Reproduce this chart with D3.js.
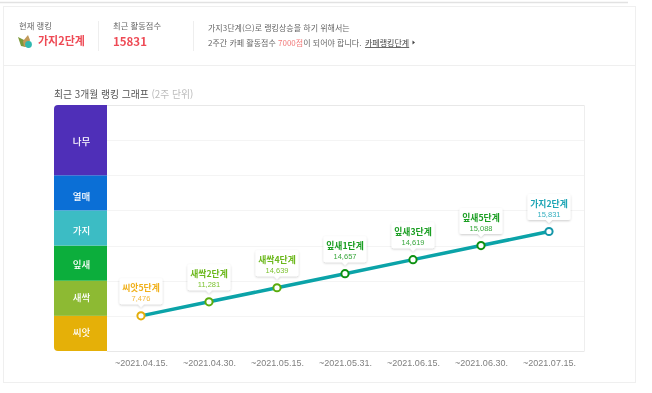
<!DOCTYPE html>
<html lang="ko"><head><meta charset="utf-8">
<style>html,body{margin:0;padding:0;background:#fff}svg{display:block;filter:blur(0.3px)}text{font-family:"Noto Sans CJK KR","Noto Sans",sans-serif}</style>
<script src="https://cdn.jsdelivr.net/npm/d3@7"></script></head><body><div id="c"></div>
<script>
const bandNames=["씨앗","새싹","잎새","가지","열매","나무"];
const bandStops=[0,5,10,15,20,25,35];
const bandColors=["#e5b008","#8dba33","#0cae3c","#3cbcc4","#0b6fd6","#4f2fb8"];
const bandLabelShift=[-0.5,-0.5,1.5,2.5,4,1.5];
const gridLevels=[0,5,10,15,20,25,30,35];
const dates=["~2021.04.15.","~2021.04.30.","~2021.05.15.","~2021.05.31.","~2021.06.15.","~2021.06.30.","~2021.07.15."];
const rankNames=["씨앗5단계","새싹2단계","새싹4단계","잎새1단계","잎새3단계","잎새5단계","가지2단계"];
const rankLevels=[5,7,9,11,13,15,17];
const scores=[7476,11281,14639,14657,14619,15088,15831];
const titleColors=["#f0b01a","#6cb81c","#6cb81c","#1a9e22","#1a9e22","#1a9e22","#1ea5b5"];
const valueColors=["#f2b83a","#7cc230","#7cc230","#3aa83e","#3aa83e","#3aa83e","#35b0c0"];
const pointColors=["#e3ad0a","#5aac0c","#5aac0c","#0c9010","#0c9010","#0c9010","#1496a8"];

const svg=d3.select("#c").append("svg").attr("width",652).attr("height",393);
const defs=svg.append("defs");
defs.append("clipPath").attr("id","pc").append("rect").attr("x",54).attr("y",105).attr("width",80).attr("height",246).attr("rx",4);
const sh=defs.append("filter").attr("id","sh").attr("x","-20%").attr("y","-20%").attr("width","140%").attr("height","150%");
sh.append("feDropShadow").attr("dx",0).attr("dy",1).attr("stdDeviation",1.2).attr("flood-color","#000").attr("flood-opacity",0.2);

const T=(x,y,s,size,fill,w,anchor)=>svg.append("text").attr("x",x).attr("y",y).text(s).attr("font-size",size).attr("fill",fill).attr("font-weight",w||400).attr("text-anchor",anchor||"start");

// page frame
svg.append("line").attr("x1",0).attr("x2",628).attr("y1",2.5).attr("y2",2.5).attr("stroke","#e2e2e2").attr("stroke-width",1.5);
svg.append("rect").attr("x",3.5).attr("y",6.5).attr("width",632).attr("height",376).attr("fill","#fff").attr("stroke","#efefef");
svg.append("line").attr("x1",4).attr("x2",635).attr("y1",65.5).attr("y2",65.5).attr("stroke","#efefef");
[98.5,193.5].forEach(x=>svg.append("line").attr("x1",x).attr("x2",x).attr("y1",21).attr("y2",51).attr("stroke","#eeeeee"));

// header
T(19,29,"현재 랭킹",8.3,"#666");
const ic=svg.append("g").attr("transform","translate(18,35)");
ic.append("path").attr("d","M0 2 L6 5 L8 12 L3 11 Z").attr("fill","#7d9a3a");
ic.append("path").attr("d","M5 6 L10 0 L12 5 L10 12 L6 12 Z").attr("fill","#c29a5a");
ic.append("circle").attr("cx",10.5).attr("cy",9.5).attr("r",3.4).attr("fill","#2fb8b0");
T(38,45,"가지2단계",11,"#ee4a55",700);
T(113,29,"최근 활동점수",8.3,"#666");
T(113,46,"15831",11.5,"#ee4a55",700).attr("font-family","Roboto,sans-serif");
T(208,31,"가지3단계(으)로 랭킹상승을 하기 위해서는",8,"#666");
const l2=T(208,46,"2주간 카페 활동점수 ",8,"#666");
l2.append("tspan").attr("fill","#f27a7a").text("7000점");
l2.append("tspan").text("이 되어야 합니다.");
T(365,46,"카페랭킹단계",8,"#444").attr("text-decoration","underline");
svg.append("path").attr("d",d3.line()([[412.5,40.5],[415,42.5],[412.5,44.5]])).attr("fill","#444");
const tt=T(54,98,"최근 3개월 랭킹 그래프 ",9.8,"#555");
tt.append("tspan").attr("fill","#bbb").text("(2주 단위)");

// scales
const x=d3.scalePoint().domain(dates).range([141,549]);
const y=d3.scaleLinear().domain([0,35]).range([351,105]);

// plot grid
svg.append("g").selectAll("line").data(gridLevels).join("line")
 .attr("x1",107).attr("x2",584.5).attr("y1",d=>Math.round(y(d))+.5).attr("y2",d=>Math.round(y(d))+.5)
 .attr("stroke",d=>d===0||d===35?"#e8e8e8":"#f4f4f4");
svg.append("line").attr("x1",584.5).attr("x2",584.5).attr("y1",105.5).attr("y2",351).attr("stroke","#eeeeee");

// bands
const bands=svg.append("g").attr("clip-path","url(#pc)");
bands.selectAll("rect").data(bandNames).join("rect")
 .attr("x",54).attr("width",53)
 .attr("y",(d,i)=>y(bandStops[i+1])).attr("height",(d,i)=>y(bandStops[i])-y(bandStops[i+1]))
 .attr("fill",(d,i)=>bandColors[i]);
svg.append("g").selectAll("text").data(bandNames).join("text")
 .attr("x",81.5).attr("y",(d,i)=>(y(bandStops[i])+y(bandStops[i+1]))/2+bandLabelShift[i])
 .attr("dy","0.36em").attr("text-anchor","middle").attr("font-size",9.5).attr("font-weight",500).attr("fill","#fff").text(d=>d);

// x axis
const ax=svg.append("g").attr("transform","translate(0,351)").call(d3.axisBottom(x).tickSize(0).tickPadding(9));
ax.select(".domain").remove();
ax.selectAll("text").attr("font-size",9).attr("fill","#808080").style("font-family","'Liberation Sans',Arial,sans-serif");

// line
svg.append("path").datum(rankLevels)
 .attr("d",d3.line().x((d,i)=>x(dates[i])).y(d=>y(d)))
 .attr("fill","none").attr("stroke","#0ba3a8").attr("stroke-width",3.5);

// points
svg.append("g").selectAll("circle").data(rankLevels).join("circle")
 .attr("cx",(d,i)=>x(dates[i])).attr("cy",d=>y(d)).attr("r",3.6)
 .attr("fill","#fff").attr("stroke-width",2).attr("stroke",(d,i)=>pointColors[i]);

// tooltips
const tip=svg.append("g").selectAll("g").data(rankLevels).join("g")
 .attr("transform",(d,i)=>`translate(${x(dates[i])},${y(d)})`);
tip.append("path").attr("filter","url(#sh)").attr("fill","#fff")
 .attr("d","M-19.5 -37.5 H19.5 a2 2 0 0 1 2 2 V-13.5 a2 2 0 0 1 -2 2 H3 L0 -8.5 L-3 -11.5 H-19.5 a2 2 0 0 1 -2 -2 V-35.5 a2 2 0 0 1 2 -2 Z");
tip.append("text").attr("y",-24.5).attr("text-anchor","middle").attr("font-size",8.8).attr("font-weight",700)
 .attr("fill",(d,i)=>titleColors[i]).text((d,i)=>rankNames[i]);
tip.append("text").attr("y",-14.5).attr("text-anchor","middle").attr("font-size",7.5)
 .attr("fill",(d,i)=>valueColors[i]).style("font-family","'Liberation Sans',Arial,sans-serif").text((d,i)=>d3.format(",")(scores[i]));
</script></body></html>
